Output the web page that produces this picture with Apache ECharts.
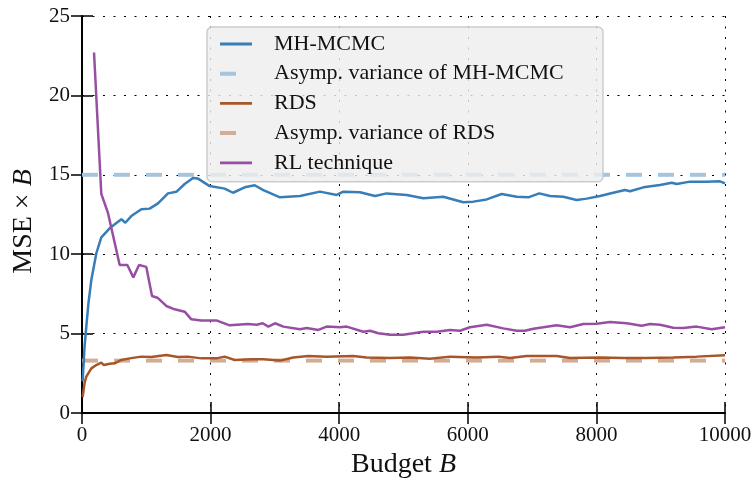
<!DOCTYPE html>
<html>
<head>
<meta charset="utf-8">
<script src="https://cdn.jsdelivr.net/npm/echarts@6/dist/echarts.min.js"></script>
<style>
html,body{margin:0;padding:0;background:#fff;}
#chart{width:756px;height:486px;}
</style>
</head>
<body>
<div id="chart"></div>
<script>
// ---- data ----
const seriesNames = ['MH-MCMC', 'Asymp. variance of MH-MCMC', 'RDS', 'Asymp. variance of RDS', 'RL technique'];

const mhBudget = [10, 40, 67, 100, 145, 223, 300, 430, 530, 612, 674, 767, 923, 1052, 1182, 1337, 1467, 1597, 1726, 1804, 1986, 2219, 2348, 2530, 2686, 2820, 3079, 3390, 3701, 3961, 4064, 4323, 4557, 4738, 5050, 5308, 5619, 5930, 6086, 6294, 6527, 6760, 6941, 7112, 7278, 7485, 7693, 7849, 8056, 8263, 8445, 8523, 8730, 8989, 9171, 9249, 9456, 9715, 9922, 10000];
const mhValues = [2.0, 4.2, 5.44, 6.9, 8.37, 10.06, 11.06, 11.63, 11.95, 12.2, 11.98, 12.4, 12.83, 12.87, 13.2, 13.83, 13.93, 14.42, 14.8, 14.76, 14.29, 14.13, 13.87, 14.21, 14.34, 14.04, 13.58, 13.66, 13.94, 13.73, 13.94, 13.9, 13.66, 13.83, 13.73, 13.52, 13.62, 13.27, 13.31, 13.45, 13.79, 13.62, 13.58, 13.83, 13.66, 13.62, 13.41, 13.5, 13.66, 13.87, 14.04, 13.96, 14.21, 14.36, 14.5, 14.42, 14.57, 14.57, 14.59, 14.46];

const rdsBudget = [10, 40, 67, 145, 223, 300, 340, 430, 508, 612, 741, 923, 1078, 1311, 1493, 1648, 1856, 2089, 2219, 2374, 2634, 2820, 3079, 3286, 3520, 3805, 4219, 4427, 4790, 5101, 5412, 5723, 6138, 6475, 6657, 6916, 7382, 7589, 8056, 8419, 8782, 9196, 9559, 10000];
const rdsValues = [1.0, 1.9, 2.29, 2.81, 3.02, 3.17, 3.02, 3.1, 3.13, 3.34, 3.44, 3.55, 3.52, 3.65, 3.52, 3.55, 3.44, 3.44, 3.55, 3.34, 3.38, 3.38, 3.3, 3.5, 3.59, 3.55, 3.59, 3.5, 3.46, 3.5, 3.42, 3.55, 3.5, 3.55, 3.46, 3.59, 3.59, 3.46, 3.5, 3.46, 3.46, 3.5, 3.55, 3.63];

const rlBudget = [187, 300, 404, 586, 705, 798, 887, 1000, 1089, 1182, 1311, 1441, 1597, 1700, 1856, 2089, 2297, 2582, 2716, 2810, 2898, 3002, 3131, 3390, 3494, 3675, 3805, 4012, 4117, 4375, 4479, 4608, 4790, 4997, 5152, 5308, 5516, 5723, 5879, 6034, 6294, 6552, 6760, 6890, 7019, 7175, 7382, 7589, 7797, 8004, 8211, 8471, 8704, 8834, 8989, 9196, 9352, 9559, 9793, 10000];
const rlValues = [22.7, 13.8, 12.6, 9.32, 9.32, 8.54, 9.32, 9.2, 7.37, 7.24, 6.74, 6.53, 6.38, 5.9, 5.83, 5.83, 5.52, 5.6, 5.56, 5.65, 5.44, 5.65, 5.44, 5.27, 5.35, 5.23, 5.44, 5.4, 5.44, 5.12, 5.18, 5.02, 4.93, 4.93, 5.02, 5.12, 5.12, 5.23, 5.18, 5.4, 5.56, 5.33, 5.18, 5.18, 5.31, 5.4, 5.52, 5.4, 5.6, 5.62, 5.73, 5.65, 5.5, 5.6, 5.56, 5.37, 5.35, 5.44, 5.27, 5.4];

const asympBudget = [0, 10000];
const asympMH = [15.0, 15.0];
const asympRDS = [3.3, 3.3];

const xTicks = [0, 2000, 4000, 6000, 8000, 10000];
const yTicks = [0, 5, 10, 15, 20, 25];

// ---- build chart ----
const zip = (xs, ys) => xs.map((x, i) => [x, ys[i]]);
const FONT = '"Liberation Serif", "DejaVu Serif", serif';
const C_BLUE = '#377eb8', C_BLUE_L = '#a5c4df', C_BROWN = '#a65628', C_BROWN_L = '#d4ad96', C_PURPLE = '#984ea3';

const chart = echarts.init(document.getElementById('chart'), null, {renderer: 'canvas'});

const solidIcon = 'path://M0,0 H0.01 V0.01 H0 Z M0,0.6 H32 V3.4 H0 Z M0,3.99 H0.01 V4 H0 Z';
const dashIcon = 'path://M0,0 H16 V4 H0 Z M31.99,0 H32 V0.01 H31.99 Z';

const tickStyle = {show: true, inside: true, length: 11, lineStyle: {color: '#000', width: 1.5}};
const gridStyle = {show: true, lineStyle: {color: '#000', width: 1, type: [2, 8.5]}};
const nameRich = {
  a: {fontFamily: FONT, fontSize: 28, color: '#111'},
  b: {fontFamily: FONT, fontSize: 28, fontStyle: 'italic', color: '#111'}
};

chart.setOption({
  animation: false,
  backgroundColor: '#fff',
  grid: {left: 82, right: 31, top: 16, bottom: 73, containLabel: false},
  legend: {
    orient: 'vertical',
    left: 207, top: 27,
    padding: [6, 11, 8, 13],
    itemWidth: 32, itemHeight: 4,
    itemGap: 7.7,
    backgroundColor: 'rgba(238,238,238,0.82)',
    borderColor: 'rgba(200,200,200,0.9)',
    borderWidth: 1.5,
    borderRadius: 5,
    selectedMode: false,
    textStyle: {fontFamily: FONT, fontSize: 22, color: '#111', lineHeight: 22, width: 318, padding: [0, 0, 0, 17]},
    itemStyle: {borderWidth: 0},
    data: [
      {name: seriesNames[0], icon: solidIcon, itemStyle: {color: C_BLUE}},
      {name: seriesNames[1], icon: dashIcon, itemStyle: {color: C_BLUE_L}},
      {name: seriesNames[2], icon: solidIcon, itemStyle: {color: C_BROWN}},
      {name: seriesNames[3], icon: dashIcon, itemStyle: {color: C_BROWN_L}},
      {name: seriesNames[4], icon: solidIcon, itemStyle: {color: C_PURPLE}}
    ]
  },
  xAxis: [{
    type: 'value', position: 'bottom', min: xTicks[0], max: xTicks[xTicks.length - 1], interval: xTicks[1] - xTicks[0],
    name: '{a|Budget }{b|B}', nameLocation: 'middle', nameGap: 36,
    nameTextStyle: {rich: nameRich},
    axisLine: {show: true, onZero: false, lineStyle: {color: '#000', width: 2}},
    axisTick: tickStyle,
    axisLabel: {fontFamily: FONT, fontSize: 21, color: '#111', margin: 12, formatter: v => String(v)},
    splitLine: gridStyle
  }, {
    type: 'value', position: 'top', min: xTicks[0], max: xTicks[xTicks.length - 1], interval: xTicks[1] - xTicks[0],
    axisLine: {show: false}, axisTick: tickStyle, axisLabel: {show: false}, splitLine: {show: false}
  }],
  yAxis: [{
    type: 'value', position: 'left', min: yTicks[0], max: yTicks[yTicks.length - 1], interval: yTicks[1] - yTicks[0],
    name: '{a|MSE × }{b|B}', nameLocation: 'middle', nameGap: 44,
    nameTextStyle: {rich: nameRich, padding: [0, 14, 0, 0]},
    axisLine: {show: true, onZero: false, lineStyle: {color: '#000', width: 2}},
    axisTick: tickStyle,
    axisLabel: {fontFamily: FONT, fontSize: 21, color: '#111', margin: 12},
    splitLine: gridStyle
  }, {
    type: 'value', position: 'right', min: yTicks[0], max: yTicks[yTicks.length - 1], interval: yTicks[1] - yTicks[0],
    axisLine: {show: false}, axisTick: tickStyle, axisLabel: {show: false}, splitLine: {show: false}
  }],
  series: [
    {name: seriesNames[0], type: 'line', data: zip(mhBudget, mhValues), showSymbol: false, symbol: 'none', z: 3,
     lineStyle: {color: C_BLUE, width: 2.5}, itemStyle: {color: C_BLUE}},
    {name: seriesNames[1], type: 'line', data: zip(asympBudget, asympMH), showSymbol: false, symbol: 'none', z: 2,
     lineStyle: {color: C_BLUE_L, width: 4, type: [16, 16]}, itemStyle: {color: C_BLUE_L}},
    {name: seriesNames[2], type: 'line', data: zip(rdsBudget, rdsValues), showSymbol: false, symbol: 'none', z: 3,
     lineStyle: {color: C_BROWN, width: 2.5}, itemStyle: {color: C_BROWN}},
    {name: seriesNames[3], type: 'line', data: zip(asympBudget, asympRDS), showSymbol: false, symbol: 'none', z: 2,
     lineStyle: {color: C_BROWN_L, width: 4, type: [16, 16]}, itemStyle: {color: C_BROWN_L}},
    {name: seriesNames[4], type: 'line', data: zip(rlBudget, rlValues), showSymbol: false, symbol: 'none', z: 3,
     lineStyle: {color: C_PURPLE, width: 2.5}, itemStyle: {color: C_PURPLE}}
  ]
});
</script>
</body>
</html>
